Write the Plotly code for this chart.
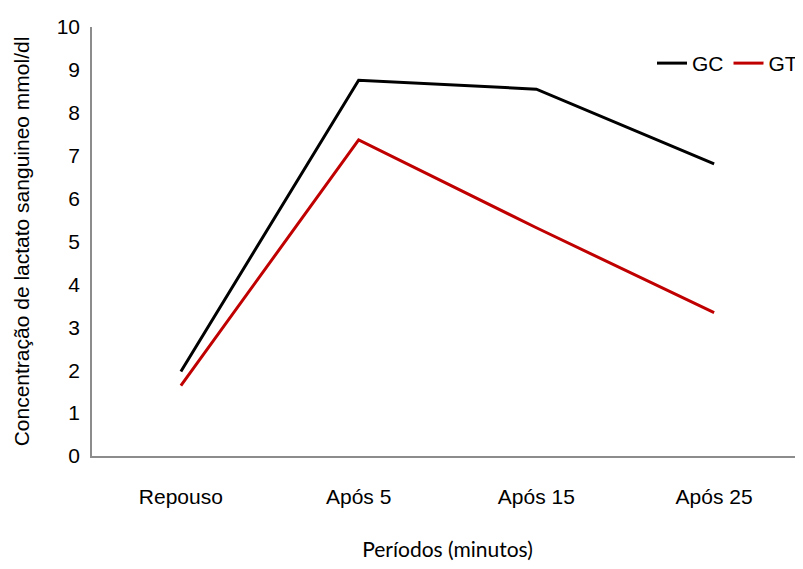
import plotly.graph_objects as go

periods = ["Repouso", "Após 5", "Após 15", "Após 25"]
gc_values = [1.97, 8.76, 8.55, 6.81]
gt_values = [1.64, 7.37, 5.32, 3.34]
y_ticks = list(range(0, 11))

font_main = "Liberation Sans, Arial, sans-serif"

fig = go.Figure()
fig.add_trace(go.Scatter(x=periods, y=gc_values, mode="lines", name="GC",
                         line=dict(color="#000000", width=3)))
fig.add_trace(go.Scatter(x=periods, y=gt_values, mode="lines", name="GT",
                         line=dict(color="#C00000", width=3)))

# page body has an 8px margin, so the figure is sized 795x561
fig.update_layout(
    width=795, height=561,
    margin=dict(l=84, r=0, t=19, b=113, autoexpand=False),
    paper_bgcolor="white", plot_bgcolor="white",
    font=dict(family=font_main, color="#000000"),
    showlegend=True,
    legend=dict(orientation="h", x=1.0, y=0.915, xanchor="right", yanchor="middle",
                font=dict(size=21, family=font_main), itemwidth=30,
                bgcolor="rgba(0,0,0,0)", tracegroupgap=0),
    xaxis=dict(
        type="category", range=[-0.5, 3.5], automargin=False,
        showline=True, linecolor="#8c8c8c", linewidth=1.5,
        showgrid=False, zeroline=False, ticks="",
        tickfont=dict(size=21, family=font_main),
        ticklabelstandoff=21,
        title=dict(text="Períodos (minutos)", font=dict(size=21, family="Lato, Open Sans, sans-serif"),
                   standoff=35),
    ),
    yaxis=dict(
        range=[0, 10], tickvals=y_ticks, automargin=False,
        showline=True, linecolor="#8c8c8c", linewidth=1.5,
        showgrid=False, zeroline=False, ticks="",
        tickfont=dict(size=21, family=font_main),
        ticklabelstandoff=6,
        title=dict(text="Concentração de lactato sanguineo mmol/dl",
                   font=dict(size=21, family=font_main), standoff=21),
    ),
)

fig.write_html("out.html")
